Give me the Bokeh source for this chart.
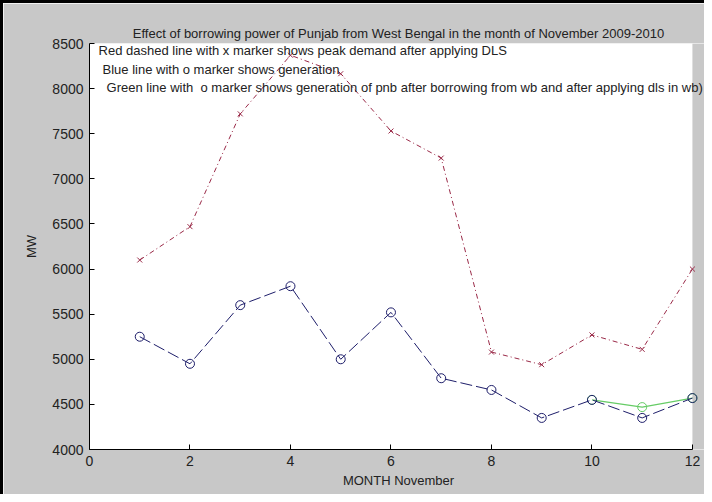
from bokeh.plotting import figure
from bokeh.models import Range1d, FixedTicker, Label, BoxAnnotation
from bokeh.embed import file_html
from bokeh.resources import INLINE

# ---- data ----
days = [1, 2, 3, 4, 5, 6, 7, 8, 9, 10, 11, 12]
peak_demand_dls = [6100, 6470, 7720, 8370, 8165, 7530, 7230, 5080, 4940, 5270, 5110, 6000]
generation = [5250, 4950, 5600, 5810, 5000, 5520, 4790, 4660, 4350, 4550, 4350, 4570]
green_x = [10, 11, 12]
green_generation = [4550, 4470, 4570]
x_ticks = [0, 2, 4, 6, 8, 10, 12]
y_ticks = [4000, 4500, 5000, 5500, 6000, 6500, 7000, 7500, 8000, 8500]
title_text = "Effect of borrowing power of Punjab from West Bengal in the month of November 2009-2010"
notes = [
    "Red dashed line with x marker shows peak demand after applying DLS",
    "Blue line with o marker shows generation",
    "Green line with \u00a0o marker shows generation of pnb after borrowing from wb and after applying dls in wb)",
]
note_x = [0.18, 0.26, 0.34]
note_y = [8420, 8215, 8010]

FONT = "Liberation Sans"
GRAY = "#c8c8c8"
RED = "#9a2a48"
BLUE = "#1e1e6a"
GREEN = "#66cc66"

X_MAX = 12
X_VIEW_END = 12.3  # frame runs past the last tick; the part beyond is painted gray

p = figure(width=704, height=494, output_backend="svg", toolbar_location=None,
           x_range=Range1d(0, X_VIEW_END), y_range=Range1d(4000, 8500),
           min_border_left=86, min_border_right=0, min_border_top=40, min_border_bottom=48)
p.styles = {"border-left": "3px solid black", "border-top": "3px solid black",
            "margin-bottom": "-8px"}
p.background_fill_color = "white"
p.border_fill_color = GRAY
p.outline_line_color = None
p.xgrid.visible = False
p.ygrid.visible = False

# gray strip to the right of the axes area
p.add_layout(BoxAnnotation(left=X_MAX, fill_color=GRAY, fill_alpha=1.0,
                           line_color=None, level="underlay"))

p.title.text = title_text
p.title.align = "center"
p.title.text_font = FONT
p.title.text_font_size = "13px"
p.title.text_font_style = "normal"
p.title.text_color = "#222222"
p.title.standoff = 6

for ax in (p.xaxis[0], p.yaxis[0]):
    ax.axis_line_color = "black"
    ax.major_tick_in = 5
    ax.major_tick_out = 0
    ax.minor_tick_line_color = None
    ax.major_label_text_font = FONT
    ax.major_label_text_font_size = "14px"
    ax.major_label_text_color = "#222222"
    ax.axis_label_text_font = FONT
    ax.axis_label_text_font_size = "13px"
    ax.axis_label_text_font_style = "normal"
    ax.axis_label_text_color = "#222222"

p.xaxis.bounds = (0, X_MAX)
p.xaxis.ticker = FixedTicker(ticks=x_ticks)
p.yaxis.ticker = FixedTicker(ticks=y_ticks)
p.xaxis.axis_label = "MONTH November"
p.yaxis.axis_label = "MW"
p.xaxis.major_label_standoff = 6
p.xaxis.axis_label_standoff = 4
p.yaxis.major_label_standoff = 6
p.yaxis.axis_label_standoff = 10

# red: peak demand (dash-dot, x markers)
p.line(days, peak_demand_dls, line_color=RED, line_width=1, line_dash="5 3 1 3")
p.scatter(days, peak_demand_dls, marker="x", size=7, line_color=RED, line_width=1)

# green: generation after borrowing
p.line(green_x, green_generation, line_color=GREEN, line_width=1.2)
p.scatter(green_x, green_generation, marker="circle", size=9, line_color=GREEN,
          fill_alpha=0, line_width=1)

# blue: generation (dashed, o markers)
p.line(days, generation, line_color=BLUE, line_width=1, line_dash="12 4")
p.scatter(days, generation, marker="circle", size=9, line_color=BLUE,
          fill_alpha=0, line_width=1)

for txt, xx, yy in zip(notes, note_x, note_y):
    p.add_layout(Label(x=xx, y=yy, text=txt, text_font=FONT, text_font_size="13px",
                       text_baseline="middle", text_color="#222222", level="overlay"))

open("out.html", "w").write(file_html(p, INLINE))
